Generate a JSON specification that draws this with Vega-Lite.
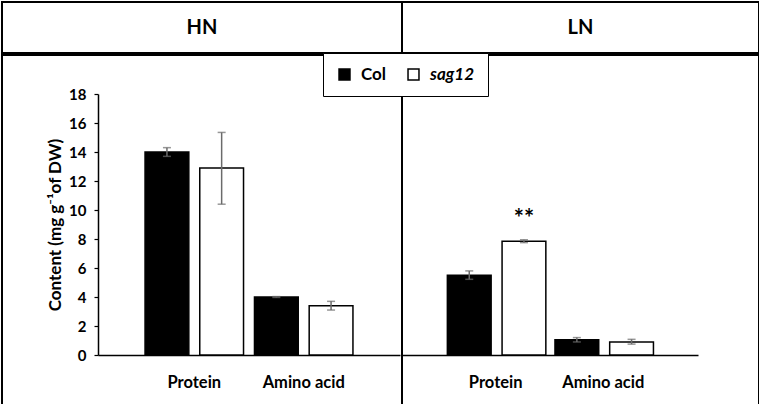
{
  "$schema": "https://vega.github.io/schema/vega-lite/v6.json",
  "background": "white",
  "padding": 1,
  "config": {
    "view": {"stroke": "black", "strokeWidth": 2},
    "font": "Lato",
    "concat": {"spacing": 0}
  },
  "datasets": {
    "bars": [
      {"panel": "HN", "category": "Protein", "genotype": "Col", "value": 14.0, "lo": 13.7, "hi": 14.3, "sig": ""},
      {"panel": "HN", "category": "Protein", "genotype": "sag12", "value": 12.9, "lo": 10.4, "hi": 15.35, "sig": ""},
      {"panel": "HN", "category": "Amino acid", "genotype": "Col", "value": 4.0, "lo": 3.97, "hi": 4.03, "sig": ""},
      {"panel": "HN", "category": "Amino acid", "genotype": "sag12", "value": 3.4, "lo": 3.1, "hi": 3.7, "sig": ""},
      {"panel": "LN", "category": "Protein", "genotype": "Col", "value": 5.5, "lo": 5.22, "hi": 5.8, "sig": ""},
      {"panel": "LN", "category": "Protein", "genotype": "sag12", "value": 7.85, "lo": 7.75, "hi": 7.95, "sig": "**"},
      {"panel": "LN", "category": "Amino acid", "genotype": "Col", "value": 1.05, "lo": 0.9, "hi": 1.2, "sig": ""},
      {"panel": "LN", "category": "Amino acid", "genotype": "sag12", "value": 0.9, "lo": 0.75, "hi": 1.08, "sig": ""}
    ]
  },
  "vconcat": [
    {
      "spacing": 0,
      "bounds": "flush",
      "hconcat": [
        {
          "width": 400, "height": 51,
          "view": {"stroke": "black", "strokeWidth": 2, "fill": "white"},
          "data": {"values": [{"panel": "HN"}]},
          "mark": {"type": "text", "font": "Lato", "fontSize": 20, "fontWeight": "bold", "color": "black", "baseline": "middle", "align": "center"},
          "encoding": {"text": {"field": "panel"}}
        },
        {
          "width": 357, "height": 51,
          "view": {"stroke": "black", "strokeWidth": 2, "fill": "white"},
          "data": {"values": [{"panel": "LN"}]},
          "mark": {"type": "text", "font": "Lato", "fontSize": 20, "fontWeight": "bold", "color": "black", "baseline": "middle", "align": "center"},
          "encoding": {"text": {"field": "panel"}}
        }
      ]
    },
    {
      "spacing": 0,
      "bounds": "flush",
      "hconcat": [
        {
          "width": 400, "height": 350,
          "data": {"name": "bars"},
          "transform": [{"filter": "datum.panel === 'HN'"}],
          "encoding": {
            "x": {
              "field": "category", "type": "nominal", "sort": ["Protein", "Amino acid"],
              "scale": {"domain": ["Protein", "Amino acid"], "range": [96, 398], "paddingInner": 0, "paddingOuter": 0.38},
              "axis": {"title": null, "offset": -50, "labelAngle": 0, "ticks": false, "domainColor": "black", "domainWidth": 1.5,
                       "labelFont": "Lato", "labelFontWeight": "bold", "labelFontSize": 16.5, "labelPadding": 19, "labelColor": "black"}
            },
            "xOffset": {"field": "genotype", "type": "nominal", "scale": {"domain": ["Col", "sag12"], "paddingInner": 0.2, "paddingOuter": 0.1}},
            "y": {
              "field": "value", "type": "quantitative",
              "scale": {"domain": [0, 18], "range": [300, 39], "nice": false, "zero": false},
              "axis": {"values": [0, 2, 4, 6, 8, 10, 12, 14, 16, 18], "offset": -96, "grid": false,
                       "title": "Content (mg g⁻¹of DW)", "titleFont": "Lato", "titleFontSize": 17, "titleFontWeight": "bold", "titleColor": "black", "titlePadding": 4,
                       "labelFont": "Lato", "labelFontSize": 15, "labelFontWeight": "bold", "labelColor": "black", "labelPadding": 8,
                       "domainColor": "black", "domainWidth": 1.5, "tickColor": "black", "tickSize": 4, "tickWidth": 1.2}
            }
          },
          "layer": [
            {
              "mark": {"type": "bar", "stroke": "black", "strokeWidth": 1.5},
              "encoding": {
                "fill": {"field": "genotype", "type": "nominal",
                  "scale": {"domain": ["Col", "sag12"], "range": ["black", "white"]},
                  "legend": {"orient": "none", "legendX": 321, "legendY": 51, "direction": "horizontal", "title": null,
                    "fillColor": "white", "strokeColor": "black", "padding": 13, "symbolType": "square", "symbolSize": 120,
                    "symbolStrokeColor": "black", "symbolStrokeWidth": 1.5, "labelFont": "Lato", "labelFontSize": 17,
                    "labelFontWeight": "bold", "labelColor": "black", "columnPadding": 18, "labelOffset": 8,
                    "encode": {"labels": {"update": {"fontStyle": {"signal": "datum.value === 'sag12' ? 'italic' : 'normal'"}}}}}
                }
              }
            },
            {
              "mark": {"type": "rule", "color": "#6b6b6b", "strokeWidth": 1.5},
              "encoding": {"y": {"field": "lo", "type": "quantitative"}, "y2": {"field": "hi"}}
            },
            {
              "mark": {"type": "tick", "color": "#6b6b6b", "size": 8, "thickness": 1.5},
              "encoding": {"y": {"field": "lo", "type": "quantitative"}}
            },
            {
              "mark": {"type": "tick", "color": "#6b6b6b", "size": 8, "thickness": 1.5},
              "encoding": {"y": {"field": "hi", "type": "quantitative"}}
            }
          ]
        },
        {
          "width": 357, "height": 350,
          "data": {"name": "bars"},
          "transform": [{"filter": "datum.panel === 'LN'"}],
          "encoding": {
            "x": {
              "field": "category", "type": "nominal", "sort": ["Protein", "Amino acid"],
              "scale": {"domain": ["Protein", "Amino acid"], "range": [-1, 296], "paddingInner": 0, "paddingOuter": 0.38},
              "axis": {"title": null, "offset": -50, "labelAngle": 0, "ticks": false, "domainColor": "black", "domainWidth": 1.5,
                       "labelFont": "Lato", "labelFontWeight": "bold", "labelFontSize": 16.5, "labelPadding": 19, "labelColor": "black"}
            },
            "xOffset": {"field": "genotype", "type": "nominal", "scale": {"domain": ["Col", "sag12"], "paddingInner": 0.2, "paddingOuter": 0.1}},
            "y": {
              "field": "value", "type": "quantitative",
              "scale": {"domain": [0, 18], "range": [300, 39], "nice": false, "zero": false},
              "axis": null
            }
          },
          "layer": [
            {
              "mark": {"type": "bar", "stroke": "black", "strokeWidth": 1.5},
              "encoding": {
                "fill": {"field": "genotype", "type": "nominal",
                  "scale": {"domain": ["Col", "sag12"], "range": ["black", "white"]}}
              }
            },
            {
              "mark": {"type": "rule", "color": "#6b6b6b", "strokeWidth": 1.5},
              "encoding": {"y": {"field": "lo", "type": "quantitative"}, "y2": {"field": "hi"}}
            },
            {
              "mark": {"type": "tick", "color": "#6b6b6b", "size": 8, "thickness": 1.5},
              "encoding": {"y": {"field": "lo", "type": "quantitative"}}
            },
            {
              "mark": {"type": "tick", "color": "#6b6b6b", "size": 8, "thickness": 1.5},
              "encoding": {"y": {"field": "hi", "type": "quantitative"}}
            },
            {
              "mark": {"type": "text", "font": "Lato", "fontSize": 24, "fontWeight": "bold", "color": "black", "baseline": "middle", "dy": -20},
              "encoding": {"y": {"field": "hi", "type": "quantitative"}, "text": {"field": "sig"}}
            }
          ]
        }
      ]
    }
  ]
}
